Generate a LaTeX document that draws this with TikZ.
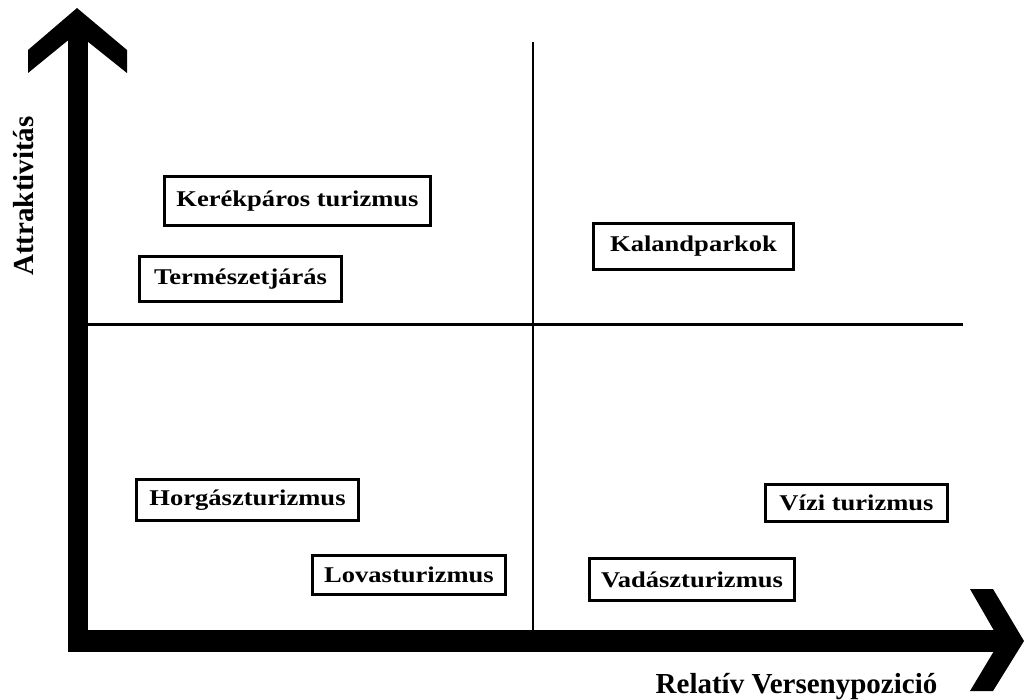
\documentclass[tikz,border=0pt]{standalone}
\usepackage{fontspec}
\setmainfont{Liberation Serif}
\newfontfamily\boxfont{Liberation Serif}[FakeStretch=1.18]
\begin{document}
\begin{tikzpicture}[x=1pt,y=-1pt,
  itembox/.style={draw, line width=3pt, inner sep=0pt, font=\boxfont\bfseries\fontsize{22.5}{27}\selectfont},
  axislabel/.style={font=\bfseries\fontsize{29}{34}\selectfont, inner sep=0pt, anchor=base},
  quadline/.style={line width=3pt}]
\useasboundingbox (0,0) rectangle (1025,699);
% axes shafts
\fill (68,30) rectangle (88,652);
\fill (68,630) rectangle (1003,652);
% arrowheads
\fill (77,8) -- (127,50) -- (127,73) -- (77,33) -- (28,73) -- (28,50) -- cycle;
\fill (970,589) -- (993,589) -- (1024,641) -- (993,691) -- (970,691) -- (1000,641) -- cycle;
% quadrant lines
\coordinate (vtop) at (533,42);
\coordinate (vbot) at (533,630);
\coordinate (hl) at (88,324);
\coordinate (hr) at (963,324);
\draw[line width=2.5pt] (vtop) -- (vbot);
\draw[quadline] (hl) -- (hr);
% boxes
\node[itembox, minimum width=266pt, minimum height=49pt] (kerek) at (297.5,201) {Kerékpáros turizmus};
\node[itembox, minimum width=202pt, minimum height=45pt] (term) at (240.5,279) {Természetjárás};
\node[itembox, minimum width=200pt, minimum height=46pt] (kaland) at (693.5,246.5) {Kalandparkok};
\node[itembox, minimum width=222pt, minimum height=41pt] (horg) at (247.5,500) {Horgászturizmus};
\node[itembox, minimum width=193pt, minimum height=39pt] (lovas) at (409,575) {Lovasturizmus};
\node[itembox, minimum width=182pt, minimum height=37pt] (vizi) at (856.5,503) {Vízi turizmus};
\node[itembox, minimum width=205pt, minimum height=42pt] (vadasz) at (692,579.5) {Vadászturizmus};
% axis labels
\node[axislabel] (xlab) at (796.5,693) {Relatív Versenypozició};
\node[axislabel, rotate=90] (ylab) at (33,196) {Attraktivitás};
\end{tikzpicture}
\end{document}
